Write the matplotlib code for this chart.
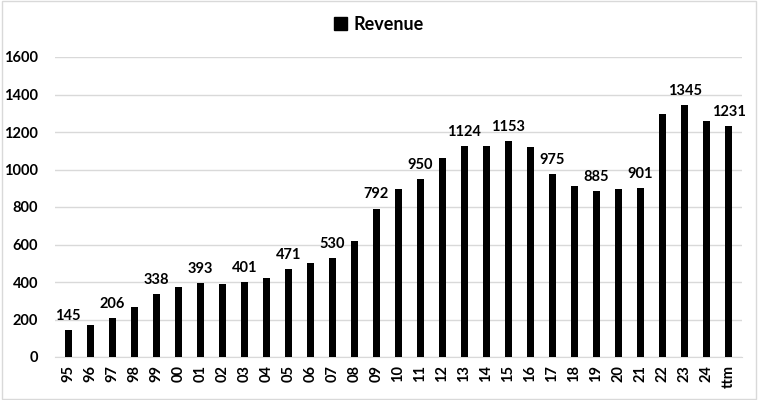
import matplotlib.pyplot as plt
from matplotlib.patches import Patch

plt.rcParams['font.family'] = ['Lato', 'DejaVu Sans']

years = ["95", "96", "97", "98", "99", "00", "01", "02", "03", "04", "05", "06",
         "07", "08", "09", "10", "11", "12", "13", "14", "15", "16", "17", "18",
         "19", "20", "21", "22", "23", "24", "ttm"]
revenue = [145, 172, 206, 268, 338, 375, 393, 389, 401, 423, 471, 501,
           530, 619, 792, 898, 950, 1061, 1124, 1127, 1153, 1118, 975, 912,
           885, 898, 901, 1294, 1345, 1259, 1231]
# only every other bar carries a data label in the original
labelled = set(range(0, len(years), 2))

fig = plt.figure(figsize=(7.58, 4.0), dpi=100)
ax = fig.add_axes([0.0726, 0.1075, 0.906, 0.75])

x = range(len(years))
bars = ax.bar(x, revenue, width=0.32, color="black", zorder=3)

for i, (b, v) in enumerate(zip(bars, revenue)):
    if i in labelled:
        ax.text(b.get_x() + b.get_width() / 2, v + 38, str(v),
                ha="center", va="bottom", fontsize=10.5, fontweight="bold")

ax.set_ylim(0, 1600)
ax.set_xlim(-0.6, len(years) - 0.4)
ax.set_yticks(range(0, 1601, 200))
ax.set_xticks(list(x))
ax.set_xticklabels(years, rotation=90)
ax.tick_params(axis="both", length=0, labelsize=10.5)
for lbl in ax.get_xticklabels() + ax.get_yticklabels():
    lbl.set_fontweight("bold")
ax.tick_params(axis="y", pad=12)
ax.tick_params(axis="x", pad=6)

ax.grid(axis="y", color="#d9d9d9", linewidth=1, zorder=0)
for s in ["top", "right", "left"]:
    ax.spines[s].set_visible(False)
ax.spines["bottom"].set_color("#d9d9d9")

fig.legend(handles=[Patch(color="black", label="Revenue")], loc="center",
           bbox_to_anchor=(0.5, 0.94), frameon=False, handlelength=0.7,
           handleheight=0.7, handletextpad=0.4,
           prop={"weight": "bold", "size": 13})

# light outer border like the source
fig.patches.append(plt.Rectangle((0.002, 0.003), 0.996, 0.994, transform=fig.transFigure,
                                 fill=False, edgecolor="#d9d9d9", linewidth=1))

fig.savefig("out.png", dpi=100)
